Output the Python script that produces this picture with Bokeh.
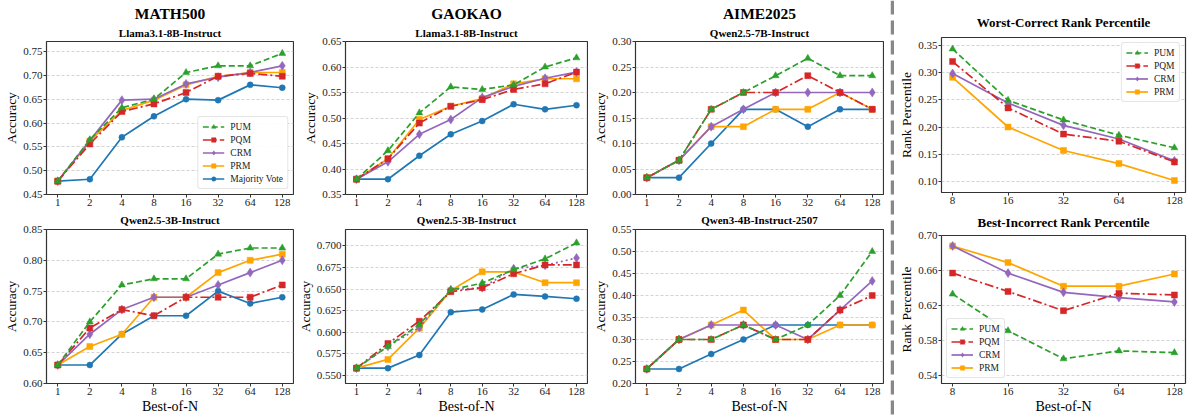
from bokeh.plotting import figure
from bokeh.layouts import row, column
from bokeh.models import (Title, FixedTicker, Range1d, NumeralTickFormatter, Span,
                          Legend, LegendItem)
from bokeh.embed import file_html
from bokeh.resources import INLINE

# ---------------- data ----------------
BEST_OF_N = ["1", "2", "4", "8", "16", "32", "64", "128"]
RANK_N = ["8", "16", "32", "64", "128"]

# MATH500 / Llama3.1-8B-Instruct
MATH_LLAMA_PUM = [0.478, 0.565, 0.632, 0.650, 0.706, 0.720, 0.720, 0.746]
MATH_LLAMA_PQM = [0.478, 0.556, 0.624, 0.640, 0.664, 0.698, 0.704, 0.698]
MATH_LLAMA_CRM = [0.478, 0.563, 0.648, 0.650, 0.682, 0.696, 0.706, 0.720]
MATH_LLAMA_PRM = [0.478, 0.562, 0.626, 0.648, 0.680, 0.698, 0.706, 0.706]
MATH_LLAMA_MV = [0.478, 0.482, 0.570, 0.614, 0.650, 0.648, 0.680, 0.674]

# GAOKAO / Llama3.1-8B-Instruct
GAOKAO_LLAMA_PUM = [0.380, 0.436, 0.510, 0.561, 0.556, 0.565, 0.600, 0.618]
GAOKAO_LLAMA_PQM = [0.380, 0.420, 0.490, 0.523, 0.536, 0.556, 0.567, 0.590]
GAOKAO_LLAMA_CRM = [0.380, 0.414, 0.468, 0.497, 0.540, 0.562, 0.578, 0.590]
GAOKAO_LLAMA_PRM = [0.380, 0.420, 0.497, 0.523, 0.538, 0.567, 0.577, 0.577]
GAOKAO_LLAMA_MV = [0.380, 0.380, 0.426, 0.468, 0.494, 0.527, 0.517, 0.525]

# AIME2025 / Qwen2.5-7B-Instruct
AIME_QWEN7_PUM = [0.033, 0.067, 0.167, 0.200, 0.233, 0.267, 0.233, 0.233]
AIME_QWEN7_PQM = [0.033, 0.067, 0.167, 0.200, 0.200, 0.233, 0.200, 0.167]
AIME_QWEN7_CRM = [0.033, 0.067, 0.133, 0.167, 0.200, 0.200, 0.200, 0.200]
AIME_QWEN7_PRM = [0.033, 0.067, 0.133, 0.133, 0.167, 0.167, 0.200, 0.167]
AIME_QWEN7_MV = [0.033, 0.033, 0.100, 0.167, 0.167, 0.133, 0.167, 0.167]

# Worst-Correct Rank Percentile
WORST_PUM = [0.343, 0.249, 0.213, 0.185, 0.162]
WORST_PQM = [0.320, 0.235, 0.187, 0.174, 0.136]
WORST_CRM = [0.298, 0.244, 0.203, 0.178, 0.138]
WORST_PRM = [0.291, 0.200, 0.157, 0.133, 0.102]

# MATH500 / Qwen2.5-3B-Instruct
MATH_QWEN3_PUM = [0.63, 0.70, 0.76, 0.77, 0.77, 0.81, 0.82, 0.82]
MATH_QWEN3_PQM = [0.63, 0.69, 0.72, 0.71, 0.74, 0.74, 0.74, 0.76]
MATH_QWEN3_CRM = [0.63, 0.68, 0.72, 0.74, 0.74, 0.76, 0.78, 0.80]
MATH_QWEN3_PRM = [0.63, 0.66, 0.68, 0.74, 0.74, 0.78, 0.80, 0.81]
MATH_QWEN3_MV = [0.63, 0.63, 0.68, 0.71, 0.71, 0.75, 0.73, 0.74]

# GAOKAO / Qwen2.5-3B-Instruct
GAOKAO_QWEN3_PUM = [0.5585, 0.5837, 0.6090, 0.6490, 0.6570, 0.6725, 0.6850, 0.7035]
GAOKAO_QWEN3_PQM = [0.5585, 0.5870, 0.6128, 0.6470, 0.6516, 0.6678, 0.6780, 0.6780]
GAOKAO_QWEN3_CRM = [0.5585, 0.5837, 0.6054, 0.6492, 0.6516, 0.6736, 0.6775, 0.6860]
GAOKAO_QWEN3_PRM = [0.5585, 0.5686, 0.6047, 0.6484, 0.6700, 0.6700, 0.6574, 0.6574]
GAOKAO_QWEN3_MV = [0.5585, 0.5585, 0.5736, 0.6233, 0.6264, 0.6438, 0.6415, 0.6388]

# AIME2025 / Qwen3-4B-Instruct-2507
AIME_QWEN4_PUM = [0.233, 0.300, 0.300, 0.333, 0.300, 0.333, 0.400, 0.500]
AIME_QWEN4_PQM = [0.233, 0.300, 0.300, 0.333, 0.300, 0.300, 0.367, 0.400]
AIME_QWEN4_CRM = [0.233, 0.300, 0.333, 0.333, 0.333, 0.300, 0.367, 0.433]
AIME_QWEN4_PRM = [0.233, 0.300, 0.333, 0.367, 0.300, 0.300, 0.333, 0.333]
AIME_QWEN4_MV = [0.233, 0.233, 0.267, 0.300, 0.333, 0.333, 0.333, 0.333]

# Best-Incorrect Rank Percentile
BEST_PUM = [0.633, 0.591, 0.559, 0.568, 0.566]
BEST_PQM = [0.657, 0.636, 0.614, 0.634, 0.632]
BEST_CRM = [0.688, 0.657, 0.635, 0.629, 0.624]
BEST_PRM = [0.688, 0.669, 0.642, 0.642, 0.656]

TICKS_MATH_LLAMA = [0.45, 0.50, 0.55, 0.60, 0.65, 0.70, 0.75]
TICKS_GAOKAO_LLAMA = [0.35, 0.40, 0.45, 0.50, 0.55, 0.60, 0.65]
TICKS_AIME_QWEN7 = [0.00, 0.05, 0.10, 0.15, 0.20, 0.25, 0.30]
TICKS_WORST = [0.10, 0.15, 0.20, 0.25, 0.30, 0.35]
TICKS_MATH_QWEN3 = [0.60, 0.65, 0.70, 0.75, 0.80, 0.85]
TICKS_GAOKAO_QWEN3 = [0.550, 0.575, 0.600, 0.625, 0.650, 0.675, 0.700]
TICKS_AIME_QWEN4 = [0.20, 0.25, 0.30, 0.35, 0.40, 0.45, 0.50, 0.55]
TICKS_BEST = [0.54, 0.58, 0.62, 0.66, 0.70]

# ---------------- styles ----------------
FONT = "Liberation Serif"
STYLE = {
    "PUM": dict(color="#2ca02c", dash="6 3", marker="triangle", size=7),
    "PQM": dict(color="#d62728", dash="9 3 2 3", marker="square", size=6),
    "CRM": dict(color="#9467bd", dash="solid", marker="diamond", size=9),
    "PRM": dict(color="#ffa500", dash="solid", marker="square", size=6),
    "Majority Vote": dict(color="#1f77b4", dash="solid", marker="circle", size=6),
}
LEGEND_ORDER = ["PUM", "PQM", "CRM", "PRM", "Majority Vote"]


def panel(width, height, labels, series, yr, ticks, fmt, borders,
          titles=(), xlabel=None, ylabel="Accuracy", legend_loc=None,
          dotted=()):
    bl, br, bt, bb = borders
    n = len(labels)
    pad = 0.05 * (n - 1)
    p = figure(width=width, height=height, output_backend="svg",
               toolbar_location=None, title=None,
               x_range=Range1d(-pad, n - 1 + pad),
               y_range=Range1d(yr[0], yr[1]),
               min_border_left=bl, min_border_right=br,
               min_border_top=bt, min_border_bottom=bb)
    p.background_fill_color = "white"
    p.border_fill_color = "white"
    p.outline_line_color = "#333333"
    p.outline_line_width = 1.2
    # titles: first added is closest to the frame
    for (txt, size, standoff) in titles:
        p.add_layout(Title(text=txt, text_font=FONT, text_font_size=size,
                           text_font_style="bold", align="center",
                           standoff=standoff, text_color="black"), "above")
    xs = list(range(n))
    p.xaxis.ticker = FixedTicker(ticks=xs)
    p.xaxis.major_label_overrides = {i: lab for i, lab in enumerate(labels)}
    p.yaxis.ticker = FixedTicker(ticks=ticks)
    p.yaxis.formatter = NumeralTickFormatter(format=fmt)
    for ax in (p.xaxis[0], p.yaxis[0]):
        ax.axis_line_color = None
        ax.major_tick_line_color = "#333333"
        ax.major_tick_out = 3
        ax.major_tick_in = 0
        ax.minor_tick_line_color = None
        ax.major_label_text_font = FONT
        ax.major_label_text_font_size = "11px"
        ax.major_label_text_color = "#222222"
        ax.major_label_standoff = 1
        ax.axis_label_text_font = FONT
        ax.axis_label_text_font_style = "normal"
        ax.axis_label_text_color = "black"
        ax.axis_label_standoff = 1
    p.yaxis.axis_label = ylabel
    p.yaxis.axis_label_text_font_size = "13.5px"
    if xlabel:
        p.xaxis.axis_label = xlabel
        p.xaxis.axis_label_text_font_size = "14px"
    p.xgrid.visible = False
    p.ygrid.grid_line_color = "#c8c8c8"
    p.ygrid.grid_line_dash = "3 2"
    p.ygrid.grid_line_width = 0.8

    rends = {}
    for name in reversed([k for k in LEGEND_ORDER if k in series]):
        st = STYLE[name]
        ys = series[name]
        dash = "2 3" if name in dotted else st["dash"]
        lr = p.line(xs, ys, line_color=st["color"], line_width=1.7, line_dash=dash)
        sr = p.scatter(xs, ys, marker=st["marker"], size=st["size"],
                       fill_color=st["color"], line_color=st["color"], line_width=0.5)
        rends[name] = [lr, sr]
    if legend_loc:
        items = [LegendItem(label=k, renderers=rends[k]) for k in LEGEND_ORDER if k in rends]
        lg = Legend(items=items, location=legend_loc,
                    label_text_font=FONT, label_text_font_size="9.5px",
                    label_text_color="#222222",
                    glyph_width=22, glyph_height=11, label_height=11,
                    label_standoff=6, spacing=2, padding=4, margin=5,
                    border_line_color="#cccccc", border_line_width=1,
                    border_radius=3,
                    background_fill_color="white", background_fill_alpha=0.9)
        p.add_layout(lg, "center")
    return p


def acc_series(pum, pqm, crm, prm, mv=None):
    d = {"PUM": pum, "PQM": pqm, "CRM": crm, "PRM": prm}
    if mv is not None:
        d["Majority Vote"] = mv
    return d


TOP_H, BOT_H = 208, 208
TOP_H4, BOT_H4 = 206, 210
W1, W2, W3, WS, W4 = 294, 294, 296, 10, 298

p1 = panel(W1, TOP_H, BEST_OF_N,
           acc_series(MATH_LLAMA_PUM, MATH_LLAMA_PQM, MATH_LLAMA_CRM, MATH_LLAMA_PRM, MATH_LLAMA_MV),
           (0.45, 0.771), TICKS_MATH_LLAMA, "0.00", (46, 1, 41, 14),
           titles=[("Llama3.1-8B-Instruct", "11px", 6), ("MATH500", "15.5px", 0)],
           legend_loc="bottom_right")
p2 = panel(W2, TOP_H, BEST_OF_N,
           acc_series(GAOKAO_LLAMA_PUM, GAOKAO_LLAMA_PQM, GAOKAO_LLAMA_CRM, GAOKAO_LLAMA_PRM, GAOKAO_LLAMA_MV),
           (0.35, 0.65), TICKS_GAOKAO_LLAMA, "0.00", (45, 1, 41, 14),
           titles=[("Llama3.1-8B-Instruct", "11px", 6), ("GAOKAO", "15.5px", 0)])
p3 = panel(W3, TOP_H, BEST_OF_N,
           acc_series(AIME_QWEN7_PUM, AIME_QWEN7_PQM, AIME_QWEN7_CRM, AIME_QWEN7_PRM, AIME_QWEN7_MV),
           (0.0, 0.30), TICKS_AIME_QWEN7, "0.00", (45, 1, 41, 14),
           titles=[("Qwen2.5-7B-Instruct", "11px", 6), ("AIME2025", "15.5px", 0)])
p4 = panel(W4, TOP_H4, RANK_N,
           acc_series(WORST_PUM, WORST_PQM, WORST_CRM, WORST_PRM),
           (0.080, 0.364), TICKS_WORST, "0.00", (45, 7, 37, 13),
           titles=[("Worst-Correct Rank Percentile", "13px", 15)],
           ylabel="Rank Percentile", legend_loc="top_right")

p5 = panel(W1, BOT_H, BEST_OF_N,
           acc_series(MATH_QWEN3_PUM, MATH_QWEN3_PQM, MATH_QWEN3_CRM, MATH_QWEN3_PRM, MATH_QWEN3_MV),
           (0.60, 0.85), TICKS_MATH_QWEN3, "0.00", (46, 1, 20, 33),
           titles=[("Qwen2.5-3B-Instruct", "11px", 7)], xlabel="Best-of-N")
p6 = panel(W2, BOT_H, BEST_OF_N,
           acc_series(GAOKAO_QWEN3_PUM, GAOKAO_QWEN3_PQM, GAOKAO_QWEN3_CRM, GAOKAO_QWEN3_PRM, GAOKAO_QWEN3_MV),
           (0.5407, 0.719), TICKS_GAOKAO_QWEN3, "0.000", (50, 1, 20, 33),
           titles=[("Qwen2.5-3B-Instruct", "11px", 7)], xlabel="Best-of-N",
           dotted=("CRM",))
p7 = panel(W3, BOT_H, BEST_OF_N,
           acc_series(AIME_QWEN4_PUM, AIME_QWEN4_PQM, AIME_QWEN4_CRM, AIME_QWEN4_PRM, AIME_QWEN4_MV),
           (0.20, 0.55), TICKS_AIME_QWEN4, "0.00", (47, 1, 20, 33),
           titles=[("Qwen3-4B-Instruct-2507", "11px", 7)], xlabel="Best-of-N")
p8 = panel(W4, BOT_H4, RANK_N,
           acc_series(BEST_PUM, BEST_PQM, BEST_CRM, BEST_PRM),
           (0.5307, 0.70), TICKS_BEST, "0.00", (47, 7, 26, 33),
           titles=[("Best-Incorrect Rank Percentile", "13px", 12)],
           ylabel="Rank Percentile", xlabel="Best-of-N", legend_loc="bottom_left")

sep = figure(width=WS, height=TOP_H + BOT_H, output_backend="svg",
             toolbar_location=None, title=None,
             x_range=Range1d(0, 1), y_range=Range1d(0, 1),
             x_axis_location=None, y_axis_location=None,
             min_border=0, min_border_left=0, min_border_right=0,
             min_border_top=0, min_border_bottom=0)
sep.outline_line_color = None
sep.grid.visible = False
sep.add_layout(Span(location=0.8, dimension="height", line_color="#888888",
                    line_width=3.5, line_dash="14 6"))

layout = row(column(p1, p5), column(p2, p6), column(p3, p7), sep, column(p4, p8))

open("out.html", "w").write(file_html(layout, INLINE))
